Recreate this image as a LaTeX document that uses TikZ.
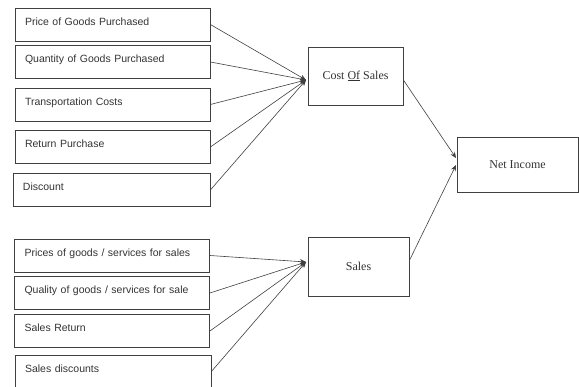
\documentclass[tikz,border=0pt]{standalone}
\usepackage{fontspec}
\setmainfont{Liberation Serif}
\newfontfamily\boxfont{Liberation Sans}
\usepackage{tikz}
\usetikzlibrary{positioning}
\usetikzlibrary{arrows.meta}
\definecolor{lineColor}{rgb}{0.25,0.25,0.25}
\definecolor{textColor}{rgb}{0.2,0.2,0.2}

\begin{document}
\begin{tikzpicture}[x=1pt,y=-1pt]

            \tikzstyle{inputBox} = [draw=lineColor, line width=0.8pt, text=textColor, font=\boxfont\fontsize{10.5}{12}\selectfont, text width=175pt, inner xsep=10pt, text height=8pt, text depth=6pt, minimum height=33pt, align=left];
            \tikzstyle{totalBox} = [draw=lineColor, line width=0.8pt, text=textColor, font=\fontsize{12}{14}\selectfont, inner sep=0pt];
            \tikzstyle{inputEdge} = [draw=lineColor, line width=0.6pt, -{Stealth[length=6pt,width=5pt]}];

            \useasboundingbox (0,0) rectangle (579,387);

            % purchase side
            \node[inputBox] (price)     at (112.5, 24.5) {Price of Goods Purchased};
            \node[inputBox] (quantity)  at (112.5, 62)   {Quantity of Goods Purchased};
            \node[inputBox] (transport) at (112.5,104.5) {Transportation Costs};
            \node[inputBox] (return)    at (112.5,147)   {Return Purchase};
            \node[inputBox, text width=177pt] (discount) at (111.5,190) {Discount};

            % sales side
            \node[inputBox] (pricesale)   at (112,255.5) {Prices of goods / services for sales};
            \node[inputBox] (qualitysale) at (112,293)   {Quality of goods / services for sale};
            \node[inputBox] (salesreturn) at (112,331)   {Sales Return};
            \node[inputBox, text width=176pt] (salesdisc) at (113,371.5) {Sales discounts};

            \node[totalBox, minimum width=95pt, minimum height=58pt]  (cost)  at (355.5, 76)   {Cost \underline{Of} Sales};
            \node[totalBox, minimum width=101pt, minimum height=59pt] (sales) at (358.5,266.5) {Sales};
            \node[totalBox, minimum width=121pt, minimum height=55pt] (net)   at (517.5,164.5) {Net Income};

            \coordinate (costin)  at (306, 80);
            \coordinate (salesin) at (306,262);
            \coordinate (netin1)  at (456,158);
            \coordinate (netin2)  at (456,165);

            \draw[inputEdge] (price.east) -- (costin);
            \draw[inputEdge] (quantity.east) -- (costin);
            \draw[inputEdge] (transport.east) -- (costin);
            \draw[inputEdge] (return.east) -- (costin);
            \draw[inputEdge] (discount.east) -- (costin);

            \draw[inputEdge] (pricesale.east) -- (salesin);
            \draw[inputEdge] (qualitysale.east) -- (salesin);
            \draw[inputEdge] (salesreturn.east) -- (salesin);
            \draw[inputEdge] (salesdisc.east) -- (salesin);

            \draw[inputEdge] ([yshift=-4pt]cost.east) -- (netin1);
            \draw[inputEdge] ([yshift=6pt]sales.east) -- (netin2);
          \end{tikzpicture}
\end{document}
